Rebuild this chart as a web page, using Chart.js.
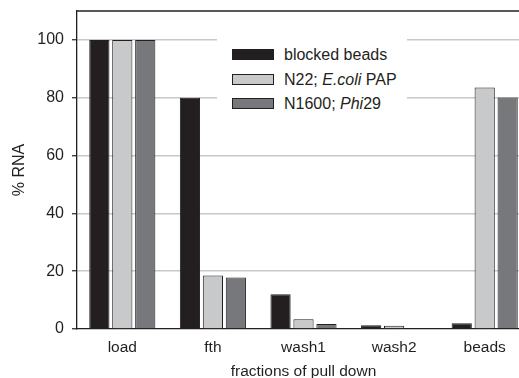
<!DOCTYPE html>
<html>
<head>
<meta charset="utf-8">
<script src="https://cdn.jsdelivr.net/npm/chart.js@4"></script>
<style>
  html, body { margin: 0; padding: 0; overflow: hidden; background: #fff; }
  #wrap { position: relative; width: 530px; height: 378px; }
  #legend {
    position: absolute; left: 217px; top: 30px; width: 190px; height: 85px;
    background: #fff; font-family: "Liberation Sans", Arial, sans-serif;
    font-size: 16px; color: #231f20;
  }
  .item { position: absolute; left: 15px; height: 20px; line-height: 20px; white-space: nowrap; }
  .sw { display: inline-block; width: 40px; height: 9px; border: 1px solid #231f20; vertical-align: middle; margin-right: 10px; position: relative; top: -1px; }
</style>
</head>
<body>
<div id="wrap">
  <canvas id="myChart" width="530" height="378"></canvas>
  <div id="legend"></div>
</div>
<script>
const categories = ["load", "fth", "wash1", "wash2", "beads"];
const seriesNames = ["blocked beads", "N22; <i>E.coli</i> PAP", "N1600; <i>Phi</i>29"];
const blockedBeads = [100, 80, 12.0, 1.3, 2.0];
const n22PAP = [100, 18.5, 3.4, 1.1, 83.5];
const n1600Phi29 = [100, 17.8, 1.7, 0, 80.1];
const yTicks = [0, 20, 40, 60, 80, 100];
const seriesColors = ["#231f20", "#c8c9cb", "#77787b"];

const ink = "#231f20";
const fontFamily = "'Liberation Sans', Arial, sans-serif";

// legend as html so the italic parts stay real text
const legendDiv = document.getElementById("legend");
seriesNames.forEach((name, i) => {
    const item = document.createElement("div");
    item.className = "item";
    item.style.top = (15 + i * 24.5) + "px";
    item.innerHTML = '<span class="sw" style="background:' + seriesColors[i] + '"></span>' + name;
    legendDiv.appendChild(item);
});

const frame = {
    id: "frame",
    afterDraw(chart) {
        const ctx = chart.ctx;
        const area = chart.chartArea;
        ctx.save();
        ctx.strokeStyle = ink;
        ctx.lineWidth = 1.3;
        ctx.beginPath();
        ctx.moveTo(area.left, area.top);
        ctx.lineTo(area.right, area.top);
        ctx.stroke();
        ctx.restore();
    }
};

const ctx = document.getElementById("myChart").getContext("2d");
const chart = new Chart(ctx, {
    type: "bar",
    data: {
        labels: categories,
        datasets: [blockedBeads, n22PAP, n1600Phi29].map((values, i) => ({
            label: seriesNames[i],
            data: values,
            backgroundColor: seriesColors[i],
            borderColor: ink,
            borderWidth: 1,
            categoryPercentage: 0.76,
            barPercentage: 0.88
        }))
    },
    options: {
        responsive: false,
        animation: false,
        layout: { padding: { top: 11, left: 0, right: 0, bottom: 0 } },
        scales: {
            x: {
                grid: { display: false, drawTicks: false },
                border: { display: true, color: ink, width: 1.3 },
                ticks: { color: ink, padding: 9, font: { family: fontFamily, size: 15.5 } },
                title: {
                    display: true, text: "fractions of pull down", color: ink,
                    font: { family: fontFamily, size: 15.5 }, padding: { top: 0, bottom: -3 }
                },
                afterFit: (scale) => { scale.height = 49; scale.paddingLeft = 0; scale.paddingRight = 0; }
            },
            y: {
                min: 0,
                max: 110,
                afterBuildTicks: (scale) => {
                    scale.ticks = yTicks.map(v => ({ value: v }));
                },
                grid: {
                    color: (c) => (c.tick && c.tick.value === 0) ? "rgba(0,0,0,0)" : "#c8c8c8",
                    lineWidth: 1.5,
                    borderDash: [30, 11],
                    tickBorderDash: [],
                    tickColor: ink,
                    tickWidth: 1.2,
                    tickLength: 5
                },
                border: { display: true, color: ink, width: 1.3 },
                ticks: { color: ink, padding: 8, font: { family: fontFamily, size: 16 } },
                title: {
                    display: true, text: "% RNA", color: ink,
                    font: { family: fontFamily, size: 16 }, padding: { top: 10, bottom: 0 }
                },
                afterFit: (scale) => { scale.width = 77; scale.paddingTop = 0; scale.paddingBottom = 0; }
            }
        },
        plugins: {
            legend: { display: false },
            tooltip: { enabled: false }
        }
    },
    plugins: [frame]
});
</script>
</body>
</html>
